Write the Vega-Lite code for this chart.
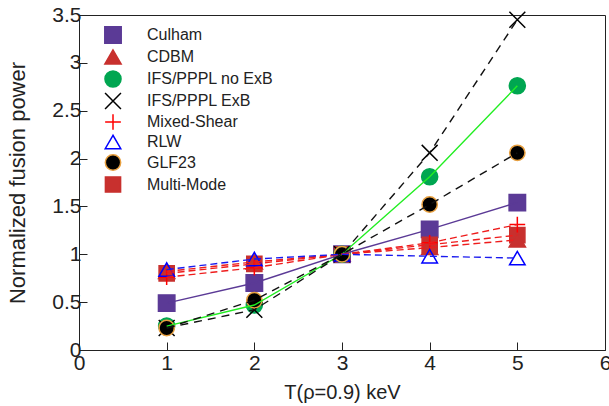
{
  "$schema": "https://vega.github.io/schema/vega-lite/v6.json",
  "width": 526,
  "height": 335,
  "autosize": {"type": "none"},
  "padding": {"left": 79, "top": 15, "right": 4, "bottom": 56},
  "background": "white",
  "config": {
    "view": {"stroke": "#222", "strokeWidth": 1},
    "font": "Liberation Sans",
    "axis": {
      "labelFont": "Liberation Sans",
      "titleFont": "Liberation Sans",
      "labelFontSize": 21,
      "titleFontSize": 20,
      "labelColor": "#222",
      "titleColor": "#222",
      "titleFontWeight": "normal",
      "domainColor": "#222",
      "tickColor": "#222",
      "grid": false,
      "tickSize": -8,
      "labelPadding": 8
    },
    "legend": {
      "orient": "top-left",
      "offset": 11,
      "padding": 0,
      "rowPadding": -1,
      "symbolOffset": 14,
      "labelOffset": 25,
      "symbolStrokeWidth": 1.5,
      "symbolOpacity": 1,
      "labelFont": "Liberation Sans",
      "labelFontSize": 16,
      "labelColor": "#222"
    }
  },
  "data": {
    "values": [
      {"T": 1, "P": 0.49, "series": "Culham"},
      {"T": 2, "P": 0.70, "series": "Culham"},
      {"T": 3, "P": 1.0, "series": "Culham"},
      {"T": 4, "P": 1.26, "series": "Culham"},
      {"T": 5, "P": 1.54, "series": "Culham"},
      {"T": 1, "P": 0.80, "series": "Multi-Mode"},
      {"T": 2, "P": 0.90, "series": "Multi-Mode"},
      {"T": 3, "P": 1.0, "series": "Multi-Mode"},
      {"T": 4, "P": 1.10, "series": "Multi-Mode"},
      {"T": 5, "P": 1.20, "series": "Multi-Mode"},
      {"T": 1, "P": 0.82, "series": "CDBM"},
      {"T": 2, "P": 0.92, "series": "CDBM"},
      {"T": 3, "P": 1.0, "series": "CDBM"},
      {"T": 4, "P": 1.07, "series": "CDBM"},
      {"T": 5, "P": 1.15, "series": "CDBM"},
      {"T": 1, "P": 0.25, "series": "IFS/PPPL no ExB"},
      {"T": 2, "P": 0.47, "series": "IFS/PPPL no ExB"},
      {"T": 3, "P": 1.0, "series": "IFS/PPPL no ExB"},
      {"T": 4, "P": 1.81, "series": "IFS/PPPL no ExB"},
      {"T": 5, "P": 2.76, "series": "IFS/PPPL no ExB"},
      {"T": 1, "P": 0.23, "series": "IFS/PPPL ExB"},
      {"T": 2, "P": 0.42, "series": "IFS/PPPL ExB"},
      {"T": 3, "P": 1.0, "series": "IFS/PPPL ExB"},
      {"T": 4, "P": 2.06, "series": "IFS/PPPL ExB"},
      {"T": 5, "P": 3.45, "series": "IFS/PPPL ExB"},
      {"T": 1, "P": 0.76, "series": "Mixed-Shear"},
      {"T": 2, "P": 0.86, "series": "Mixed-Shear"},
      {"T": 3, "P": 1.0, "series": "Mixed-Shear"},
      {"T": 4, "P": 1.12, "series": "Mixed-Shear"},
      {"T": 5, "P": 1.31, "series": "Mixed-Shear"},
      {"T": 1, "P": 0.84, "series": "RLW"},
      {"T": 2, "P": 0.95, "series": "RLW"},
      {"T": 3, "P": 1.0, "series": "RLW"},
      {"T": 4, "P": 0.98, "series": "RLW"},
      {"T": 5, "P": 0.96, "series": "RLW"},
      {"T": 1, "P": 0.23, "series": "GLF23"},
      {"T": 2, "P": 0.52, "series": "GLF23"},
      {"T": 3, "P": 1.0, "series": "GLF23"},
      {"T": 4, "P": 1.52, "series": "GLF23"},
      {"T": 5, "P": 2.06, "series": "GLF23"}
    ]
  },
  "encoding": {
    "x": {
      "field": "T", "type": "quantitative",
      "scale": {"domain": [0, 6], "nice": false, "zero": false},
      "axis": {"values": [0, 1, 2, 3, 4, 5, 6], "title": "T(ρ=0.9) keV", "titlePadding": 9, "labelPadding": 10, "labelFlush": false, "format": "~g"}
    },
    "y": {
      "field": "P", "type": "quantitative",
      "scale": {"domain": [0, 3.5], "nice": false},
      "axis": {"values": [0, 0.5, 1, 1.5, 2, 2.5, 3, 3.5], "title": "Normalized fusion power", "titleFontSize": 22, "titlePadding": 22, "labelPadding": 6, "labelFlush": false, "format": "~g"}
    }
  },
  "layer": [
    {
      "mark": {"type": "point", "opacity": 1, "strokeWidth": 1.5},
      "encoding": {
        "shape": {
          "field": "series", "type": "nominal", "title": null,
          "legend": {"orient": "top-left", "offset": 11, "encode": {"symbols": {"update": {"size": {"scale": "size", "field": "value"}}}}},
          "scale": {
            "domain": ["Culham", "CDBM", "IFS/PPPL no ExB", "IFS/PPPL ExB", "Mixed-Shear", "RLW", "GLF23", "Multi-Mode"],
            "range": ["square", "triangle-up", "circle", "M-1,-1L1,1M-1,1L1,-1", "M-1,0L1,0M0,-1L0,1", "triangle-up", "circle", "square"]
          }
        },
        "fill": {
          "field": "series", "type": "nominal", "title": null,
          "legend": {"orient": "top-left", "offset": 11, "encode": {"symbols": {"update": {"size": {"scale": "size", "field": "value"}}}}},
          "scale": {
            "domain": ["Culham", "CDBM", "IFS/PPPL no ExB", "IFS/PPPL ExB", "Mixed-Shear", "RLW", "GLF23", "Multi-Mode"],
            "range": ["#5b3a96", "#c8302e", "#00a651", "transparent", "transparent", "transparent", "#000000", "#c8302e"]
          }
        },
        "stroke": {
          "field": "series", "type": "nominal", "title": null,
          "legend": {"orient": "top-left", "offset": 11, "encode": {"symbols": {"update": {"size": {"scale": "size", "field": "value"}}}}},
          "scale": {
            "domain": ["Culham", "CDBM", "IFS/PPPL no ExB", "IFS/PPPL ExB", "Mixed-Shear", "RLW", "GLF23", "Multi-Mode"],
            "range": ["#5b3a96", "#c8302e", "#00a651", "#000000", "#ff0000", "#0000ff", "#e8a040", "#c8302e"]
          }
        },
        "size": {
          "field": "series", "type": "nominal", "title": null,
          "legend": {"orient": "top-left", "offset": 11, "encode": {"symbols": {"update": {"size": {"scale": "size", "field": "value"}}}}},
          "scale": {
            "domain": ["Culham", "CDBM", "IFS/PPPL no ExB", "IFS/PPPL ExB", "Mixed-Shear", "RLW", "GLF23", "Multi-Mode"],
            "range": [270, 230, 270, 90, 130, 110, 80, 140]
          }
        }
      }
    },
    {
      "transform": [{"filter": {"field": "series", "oneOf": ["Culham", "IFS/PPPL no ExB"]}}],
      "mark": {"type": "line", "strokeWidth": 1.4},
      "encoding": {
        "color": {
          "field": "series", "type": "nominal", "legend": null,
          "scale": {
            "domain": ["Culham", "CDBM", "IFS/PPPL no ExB", "IFS/PPPL ExB", "Mixed-Shear", "RLW", "GLF23", "Multi-Mode"],
            "range": ["#5b3a96", "#ee1c1c", "#22ee22", "#111111", "#ee1c1c", "#1a1aee", "#111111", "#ee1c1c"]
          }
        }
      }
    },
    {
      "transform": [{"filter": {"field": "series", "oneOf": ["CDBM", "Mixed-Shear", "RLW", "Multi-Mode"]}}],
      "mark": {"type": "line", "strokeWidth": 1.4, "strokeDash": [7, 4]},
      "encoding": {
        "color": {"field": "series", "type": "nominal", "legend": null}
      }
    },
    {
      "transform": [{"filter": {"field": "series", "oneOf": ["IFS/PPPL ExB", "GLF23"]}}],
      "mark": {"type": "line", "strokeWidth": 1.4, "strokeDash": [8, 6]},
      "encoding": {
        "color": {"field": "series", "type": "nominal", "legend": null}
      }
    }
  ]
}
